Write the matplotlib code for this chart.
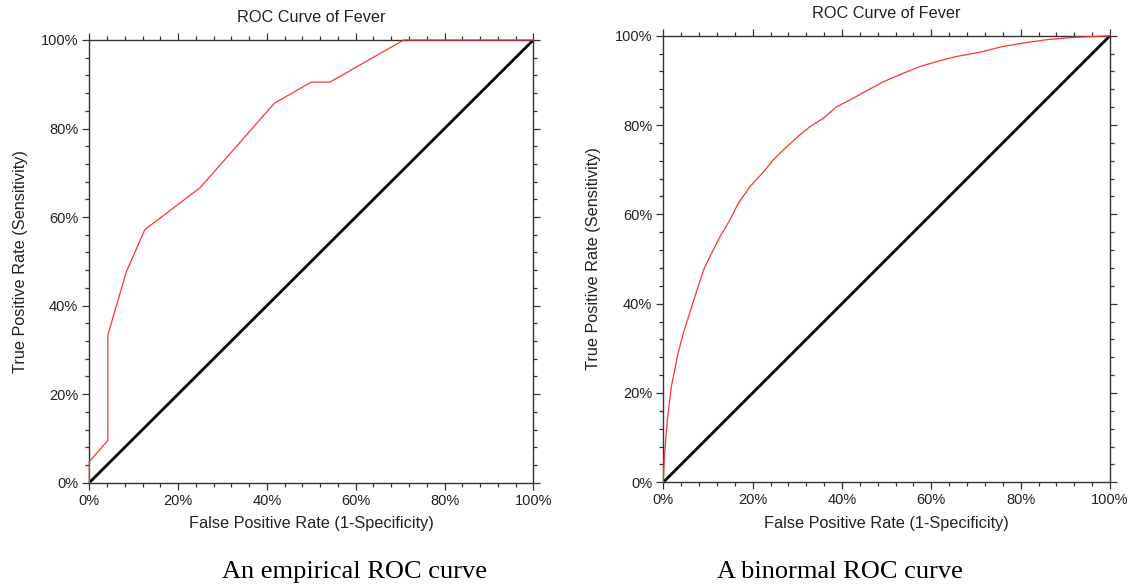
import matplotlib
matplotlib.use('Agg')
import matplotlib.pyplot as plt
from matplotlib.ticker import MultipleLocator, PercentFormatter

# empirical ROC (percent)
emp_fpr = [0, 0, 4.17, 4.17, 8.33, 12.5, 25.0, 41.67, 50.0, 54.17, 70.83, 100]
emp_tpr = [0, 4.76, 9.52, 33.33, 47.62, 57.14, 66.67, 85.71, 90.48, 90.48, 100, 100]

# binormal ROC (percent)
bin_fpr = [0, 0.1, 0.3, 0.9, 1.8, 3.3, 4.5, 6.6, 9.0, 10.8, 12.7, 14.9, 16.8, 19.4,
           22.8, 24.6, 27.6, 30.6, 32.8, 35.8, 38.8, 41.8, 45.2, 49.3, 53.7, 57.5,
           61.2, 65.4, 70.9, 75.6, 80.3, 85.8, 91.3, 96.0, 100]
bin_tpr = [0, 2.5, 6.5, 13.9, 21.4, 28.9, 33.4, 40.1, 47.5, 51.3, 55.0, 58.7, 62.5, 66.2,
           69.9, 72.2, 75.1, 77.8, 79.6, 81.5, 84.1, 85.6, 87.5, 89.7, 91.6, 93.1,
           94.2, 95.3, 96.3, 97.5, 98.3, 99.1, 99.6, 99.8, 100]

chance = [0, 100]

title = 'ROC Curve of Fever'
xlabel = 'False Positive Rate (1-Specificity)'
ylabel = 'True Positive Rate (Sensitivity)'
captions = ['An empirical ROC curve', 'A binormal ROC curve']

plt.rcParams['font.family'] = ['Liberation Sans', 'DejaVu Sans']
text_color = '#222222'

fig = plt.figure(figsize=(11.29, 5.85), dpi=100)
ax1 = fig.add_axes([0.0791, 0.1749, 0.3933, 0.7568])
ax2 = fig.add_axes([0.5875, 0.1756, 0.3957, 0.7634])


def style_axes(ax, ylabelpad):
    ax.set_xlim(0, 100)
    ax.set_ylim(0, 100)
    ax.xaxis.set_major_locator(MultipleLocator(20))
    ax.xaxis.set_minor_locator(MultipleLocator(4))
    ax.yaxis.set_major_locator(MultipleLocator(20))
    ax.yaxis.set_minor_locator(MultipleLocator(4))
    ax.xaxis.set_major_formatter(PercentFormatter(decimals=0))
    ax.yaxis.set_major_formatter(PercentFormatter(decimals=0))
    ax.tick_params(which='both', direction='out', top=True, right=True,
                   color='#333333', width=0.9, labelsize=10.5, labelcolor=text_color)
    ax.tick_params(which='major', length=5, pad=3)
    ax.tick_params(which='minor', length=3)
    for s in ax.spines.values():
        s.set_color('#333333')
        s.set_linewidth(1.0)
    ax.set_title(title, fontsize=11.7, color=text_color, pad=13)
    ax.set_xlabel(xlabel, fontsize=11.7, color=text_color, labelpad=6)
    ax.set_ylabel(ylabel, fontsize=11.7, color=text_color, labelpad=ylabelpad)


ax1.plot(chance, chance, color='black', lw=2.0, solid_capstyle='butt', zorder=2)
ax1.plot(emp_fpr, emp_tpr, color='#ff3333', lw=0.9, zorder=3, clip_on=False)
style_axes(ax1, 9)

ax2.plot(chance, chance, color='black', lw=2.0, solid_capstyle='butt', zorder=2)
ax2.plot(bin_fpr, bin_tpr, color='#ff3333', lw=0.9, zorder=3, clip_on=False)
style_axes(ax2, 10)

fig.text(355 / 1129, 1 - 572 / 585, captions[0], family='Liberation Serif',
         fontsize=19, ha='center', va='center', color='black')
fig.text(840 / 1129, 1 - 572 / 585, captions[1], family='Liberation Serif',
         fontsize=19, ha='center', va='center', color='black')

fig.savefig('out.png', dpi=100)
